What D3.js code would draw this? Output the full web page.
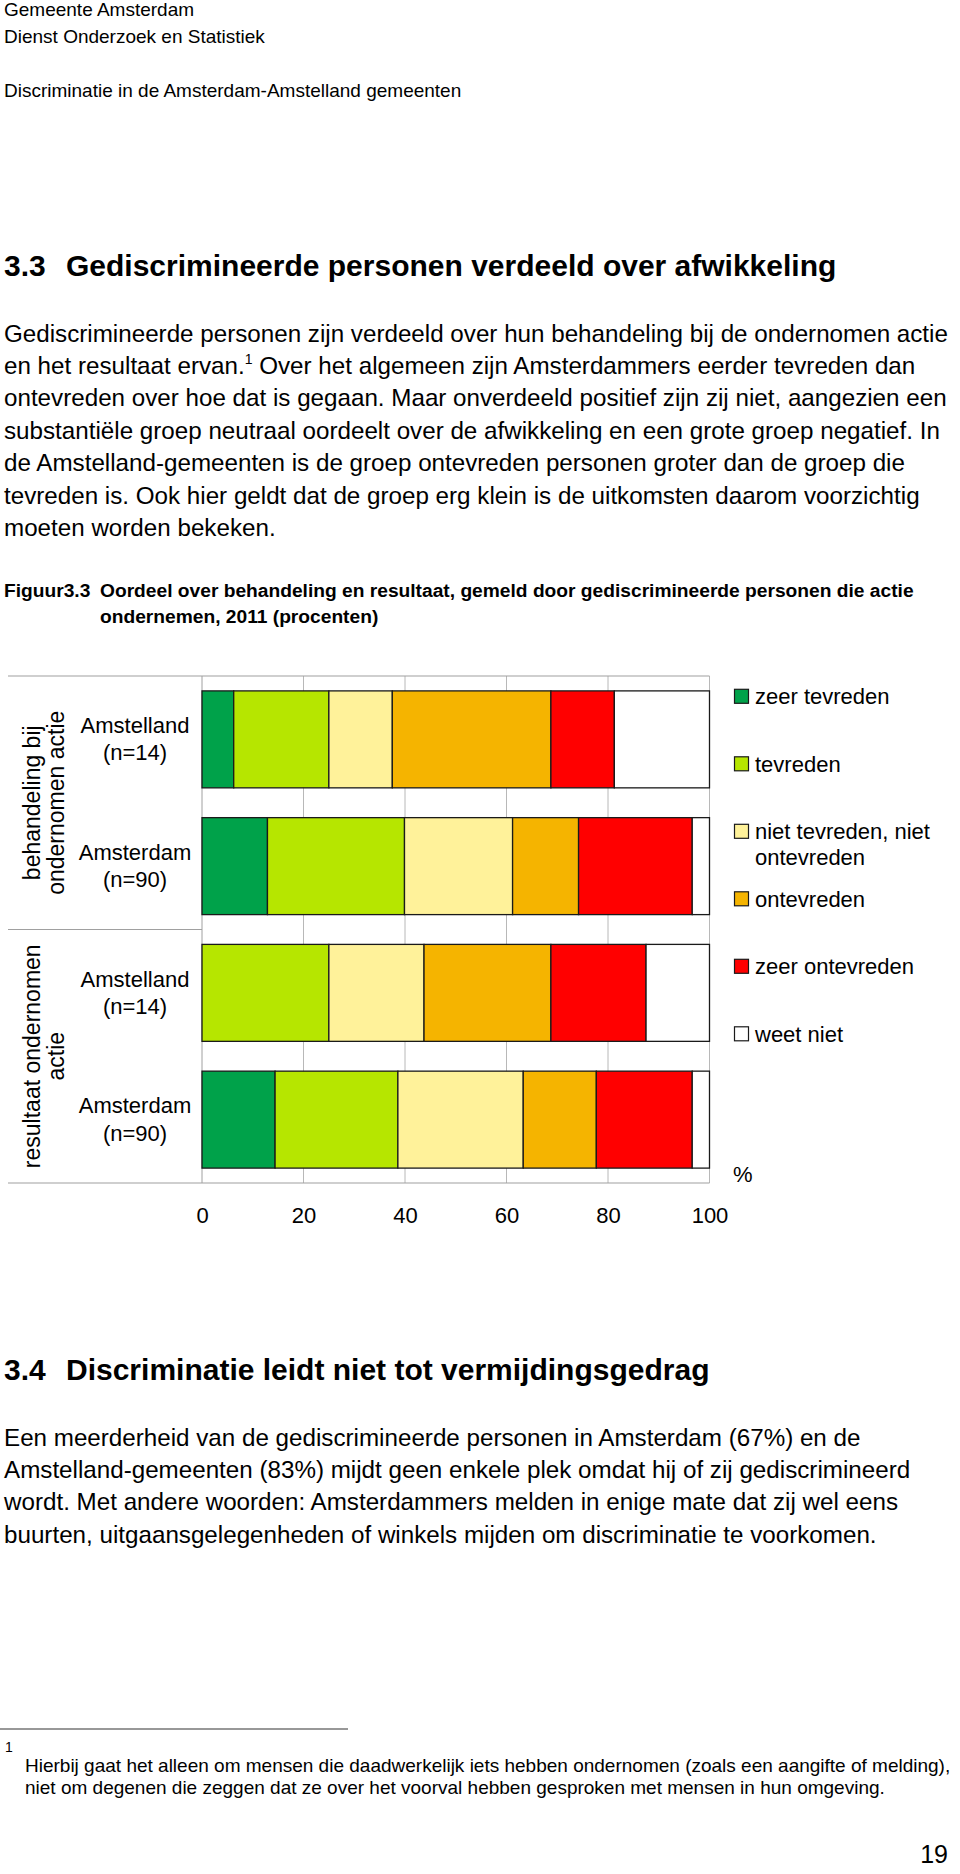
<!DOCTYPE html>
<html>
<head>
<meta charset="utf-8">
<script src="https://cdn.jsdelivr.net/npm/d3@7"></script>
<style>
  html, body { margin: 0; padding: 0; background: #fff; }
  svg { display: block; }
  text { font-family: "Liberation Sans", Arial, Helvetica, sans-serif; fill: #000; }
</style>
</head>
<body>
<svg id="page" width="960" height="1874"></svg>
<script>
// ---------------- data ----------------
const rowIds = ["beh-ams", "beh-adam", "res-ams", "res-adam"];
const rowLabels = [["Amstelland", "(n=14)"], ["Amsterdam", "(n=90)"], ["Amstelland", "(n=14)"], ["Amsterdam", "(n=90)"]];
const groupLabels = [["behandeling bij", "ondernomen actie"], ["resultaat ondernomen", "actie"]];
const groupRows = [["beh-ams", "beh-adam"], ["res-ams", "res-adam"]];
const categories = ["zeer tevreden", "tevreden", "niet tevreden, niet ontevreden", "ontevreden", "zeer ontevreden", "weet niet"];
const legendLabels = [["zeer tevreden"], ["tevreden"], ["niet tevreden, niet", "ontevreden"], ["ontevreden"], ["zeer ontevreden"], ["weet niet"]];
const colors = ["#00A24A", "#B6E600", "#FFF29A", "#F5B400", "#FF0000", "#FFFFFF"];
const zeerTevreden   = [6.25, 12.9, 0,     14.4];
const tevreden       = [18.75, 27.0, 25,   24.2];
const neutraal       = [12.5, 21.3, 18.75, 24.7];
const ontevreden     = [31.25, 13.0, 25,   14.4];
const zeerOntevreden = [12.5, 22.4, 18.75, 18.9];
const weetNiet       = [18.75, 3.4, 12.5,  3.4];
const tickValues = [0, 20, 40, 60, 80, 100];

// page text
const header = ["Gemeente Amsterdam", "Dienst Onderzoek en Statistiek"];
const subHeader = "Discriminatie in de Amsterdam-Amstelland gemeenten";
const heading1 = ["3.3", "Gediscrimineerde personen verdeeld over afwikkeling"];
const para1 = [
  "Gediscrimineerde personen zijn verdeeld over hun behandeling bij de ondernomen actie",
  "en het resultaat ervan.|1| Over het algemeen zijn Amsterdammers eerder tevreden dan",
  "ontevreden over hoe dat is gegaan. Maar onverdeeld positief zijn zij niet, aangezien een",
  "substantiële groep neutraal oordeelt over de afwikkeling en een grote groep negatief. In",
  "de Amstelland-gemeenten is de groep ontevreden personen groter dan de groep die",
  "tevreden is. Ook hier geldt dat de groep erg klein is de uitkomsten daarom voorzichtig",
  "moeten worden bekeken."
];
const caption = ["Figuur3.3", "Oordeel over behandeling en resultaat, gemeld door gediscrimineerde personen die actie", "ondernemen, 2011 (procenten)"];
const heading2 = ["3.4", "Discriminatie leidt niet tot vermijdingsgedrag"];
const para2 = [
  "Een meerderheid van de gediscrimineerde personen in Amsterdam (67%) en de",
  "Amstelland-gemeenten (83%) mijdt geen enkele plek omdat hij of zij gediscrimineerd",
  "wordt. Met andere woorden: Amsterdammers melden in enige mate dat zij wel eens",
  "buurten, uitgaansgelegenheden of winkels mijden om discriminatie te voorkomen."
];
const footnote = [
  "Hierbij gaat het alleen om mensen die daadwerkelijk iets hebben ondernomen (zoals een aangifte of melding),",
  "niet om degenen die zeggen dat ze over het voorval hebben gesproken met mensen in hun omgeving."
];
const pageNumber = "19";

// ---------------- page text ----------------
const svg = d3.select("#page");
const LEFT = 4;

svg.selectAll("text.hdr").data(header).join("text").attr("class", "hdr")
  .attr("x", LEFT).attr("y", (d, i) => 16 + i * 26.8).attr("font-size", 19).text(d => d);
svg.append("text").attr("x", LEFT).attr("y", 96.7).attr("font-size", 19).text(subHeader);

function heading(parts, y) {
  svg.append("text").attr("x", LEFT).attr("y", y).attr("font-size", 30).attr("font-weight", "bold").text(parts[0]);
  svg.append("text").attr("x", 66).attr("y", y).attr("font-size", 30).attr("font-weight", "bold").text(parts[1]);
}
heading(heading1, 276);

function paragraph(lines, y0, lh, fs) {
  lines.forEach((line, i) => {
    const t = svg.append("text").attr("x", LEFT).attr("y", y0 + i * lh).attr("font-size", fs);
    const parts = line.split("|");
    parts.forEach((p, j) => {
      if (j % 2 === 1) {
        t.append("tspan").attr("font-size", fs * 0.58).attr("dy", -fs * 0.42).text(p);
      } else {
        const ts = t.append("tspan").text(p);
        if (j > 0) ts.attr("dy", fs * 0.42);
      }
    });
  });
}
paragraph(para1, 341.5, 32.4, 24.2);

svg.append("text").attr("x", LEFT).attr("y", 596.5).attr("font-size", 19.2).attr("font-weight", "bold").text(caption[0]);
svg.append("text").attr("x", 100).attr("y", 596.5).attr("font-size", 19.2).attr("font-weight", "bold").text(caption[1]);
svg.append("text").attr("x", 100).attr("y", 623).attr("font-size", 19.2).attr("font-weight", "bold").text(caption[2]);

heading(heading2, 1380);
paragraph(para2, 1446, 32.2, 24.2);

svg.append("line").attr("x1", 0).attr("x2", 348).attr("y1", 1729).attr("y2", 1729)
  .attr("stroke", "#333").attr("stroke-width", 1.2);
svg.append("text").attr("x", LEFT + 1).attr("y", 1752).attr("font-size", 14).text("1");
footnote.forEach((l, i) => {
  svg.append("text").attr("x", 25).attr("y", 1772 + i * 21.8).attr("font-size", 19).text(l);
});
svg.append("text").attr("x", 948).attr("y", 1863).attr("font-size", 25).attr("text-anchor", "end").text(pageNumber);

// ---------------- chart ----------------
const x = d3.scaleLinear().domain([0, 100]).range([202, 709.5]);
const y = d3.scaleBand().domain(rowIds).range([676, 1183]).paddingInner(0.235).paddingOuter(0.1175);
const color = d3.scaleOrdinal().domain(categories).range(colors);

const table = rowIds.map((id, i) => ({
  id,
  [categories[0]]: zeerTevreden[i],
  [categories[1]]: tevreden[i],
  [categories[2]]: neutraal[i],
  [categories[3]]: ontevreden[i],
  [categories[4]]: zeerOntevreden[i],
  [categories[5]]: weetNiet[i]
}));
const series = d3.stack().keys(categories)(table);

const chart = svg.append("g");
const [yTop, yBot] = y.range();

// vertical grid
chart.append("g").selectAll("line").data(tickValues.slice(1)).join("line")
  .attr("x1", d => x(d)).attr("x2", d => x(d))
  .attr("y1", yTop).attr("y2", yBot)
  .attr("stroke", "#b8b8b8").attr("stroke-width", 1);
// left axis line
chart.append("line").attr("x1", x(0)).attr("x2", x(0)).attr("y1", yTop).attr("y2", yBot)
  .attr("stroke", "#a0a0a0").attr("stroke-width", 1);
// top & bottom rules spanning label area
chart.selectAll("line.rule").data([yTop, yBot]).join("line").attr("class", "rule")
  .attr("x1", 8).attr("x2", x(100)).attr("y1", d => d).attr("y2", d => d)
  .attr("stroke", "#a0a0a0").attr("stroke-width", 1.2);
// group separator
const sepY = (y(groupRows[0][1]) + y.bandwidth() + y(groupRows[1][0])) / 2;
chart.append("line").attr("x1", 8).attr("x2", x(0)).attr("y1", sepY).attr("y2", sepY)
  .attr("stroke", "#a0a0a0").attr("stroke-width", 1.2);

// bars
chart.append("g").selectAll("g").data(series).join("g")
  .attr("fill", d => color(d.key))
  .selectAll("rect").data(d => d.filter(s => s[1] - s[0] > 0)).join("rect")
  .attr("x", d => x(d[0]))
  .attr("width", d => x(d[1]) - x(d[0]))
  .attr("y", d => y(d.data.id))
  .attr("height", y.bandwidth())
  .attr("stroke", "#1a1a1a").attr("stroke-width", 1.3);

// x axis tick labels
const xAxis = chart.append("g").attr("transform", `translate(0,${yBot})`)
  .call(d3.axisBottom(x).tickValues(tickValues).tickSize(0).tickPadding(0).tickFormat(d3.format("d")));
xAxis.select(".domain").remove();
xAxis.selectAll("text").attr("y", 40.3).attr("dy", null)
  .attr("font-size", 22).attr("font-family", '"Liberation Sans", Arial, sans-serif').attr("fill", "#000");
chart.append("text").attr("x", 733).attr("y", 1181.5).attr("font-size", 22).text("%");

// row labels
rowIds.forEach((id, i) => {
  const cy = y(id) + y.bandwidth() / 2;
  chart.append("text").attr("x", 135).attr("text-anchor", "middle").attr("font-size", 22)
    .selectAll("tspan").data(rowLabels[i]).join("tspan")
    .attr("x", 135).attr("y", (d, j) => cy - 6.2 + j * 27.3).text(d => d);
});

// group labels (rotated)
groupRows.forEach((rows, g) => {
  const top = y(rows[0]) - y.step() * y.paddingInner() / 2;
  const bot = y(rows[1]) + y.bandwidth() + y.step() * y.paddingInner() / 2;
  const cy = (top + bot) / 2;
  groupLabels[g].forEach((line, j) => {
    const bx = 39.5 + j * 24;
    chart.append("text").attr("transform", `translate(${bx},${cy}) rotate(-90)`)
      .attr("text-anchor", "middle").attr("font-size", 23).text(line);
  });
});

// legend
const legend = chart.append("g");
categories.forEach((c, i) => {
  const top = 689.3 + i * 67.5;
  legend.append("rect").attr("x", 734.5).attr("y", top).attr("width", 14).attr("height", 14)
    .attr("fill", color(c)).attr("stroke", "#1a1a1a").attr("stroke-width", 1.2);
  legendLabels[i].forEach((l, j) => {
    legend.append("text").attr("x", 755).attr("y", top + 15 + j * 25.5).attr("font-size", 22).text(l);
  });
});
</script>
</body>
</html>
